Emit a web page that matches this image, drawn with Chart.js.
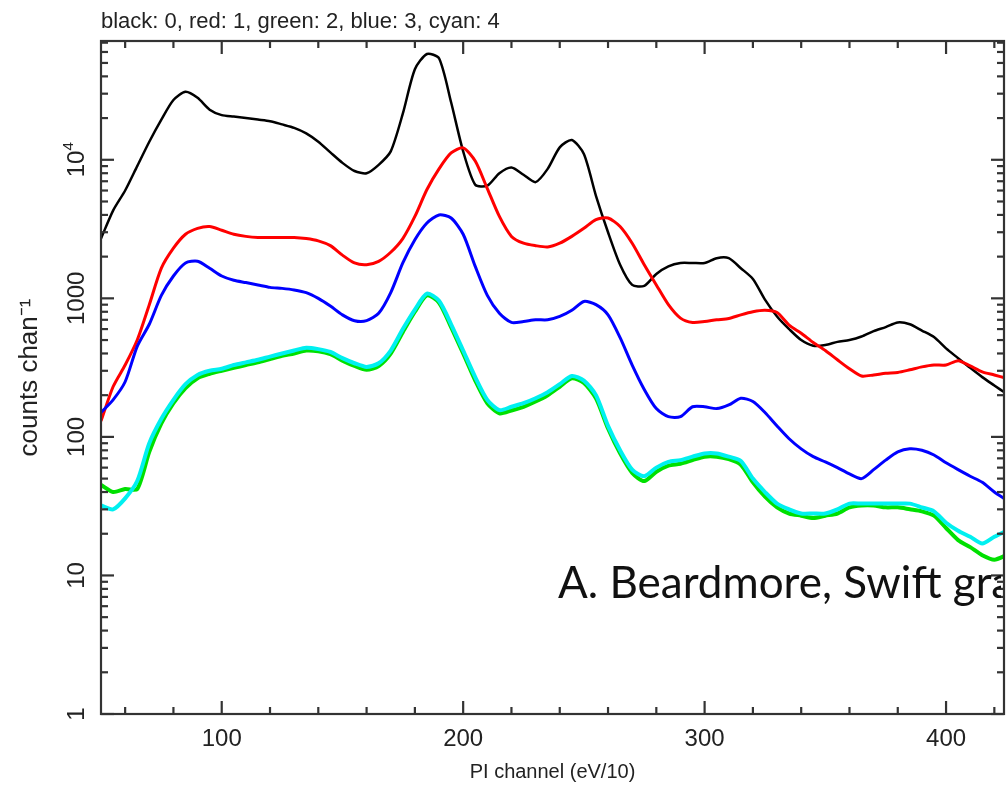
<!DOCTYPE html>
<html>
<head>
<meta charset="utf-8">
<script src="https://cdn.jsdelivr.net/npm/chart.js@4.4.0/dist/chart.umd.min.js"></script>
<style>
  html, body { margin: 0; padding: 0; background: #fff; }
  #wrap { width: 1007px; height: 786px; position: relative; }
</style>
</head>
<body>
<div id="wrap"><canvas id="spec"></canvas></div>
<script>
// PI channel (eV/10), read every 5 channels
const channels = [50, 55, 60, 65, 70, 75, 80, 85, 90, 95,
  100, 105, 110, 115, 120, 125, 130, 135, 140, 145,
  150, 155, 160, 165, 170, 175, 180, 185, 190, 195,
  200, 205, 210, 215, 220, 225, 230, 235, 240, 245,
  250, 255, 260, 265, 270, 275, 280, 285, 290, 295,
  300, 305, 310, 315, 320, 325, 330, 335, 340, 345,
  350, 355, 360, 365, 370, 375, 380, 385, 390, 395,
  400, 405, 410, 415, 420, 425];

// counts chan^-1
const black0 = [2700, 4300, 6000, 9000, 13500, 19500, 27000, 31000, 28000, 23000,
  21000, 20500, 20000, 19500, 19000, 18000, 17000, 15500, 13500, 11300,
  9500, 8300, 8000, 9200, 11500, 21500, 45000, 58000, 54000, 26000,
  11500, 6600, 6500, 8000, 8800, 7800, 6900, 8600, 12300, 13900,
  11000, 5500, 3000, 1750, 1250, 1230, 1500, 1700, 1800, 1800,
  1800, 1950, 1950, 1650, 1380, 980, 740, 600, 500, 455,
  460, 485, 500, 530, 580, 620, 670, 650, 585, 525,
  435, 370, 315, 270, 235, 205];

const red1 = [130, 230, 330, 500, 900, 1650, 2300, 2900, 3200, 3300,
  3100, 2900, 2800, 2750, 2750, 2750, 2750, 2700, 2600, 2400,
  2050, 1800, 1750, 1850, 2150, 2700, 3900, 6100, 8600, 11200,
  12200, 9800, 6200, 3900, 2800, 2500, 2400, 2350, 2500, 2800,
  3200, 3700, 3800, 3300, 2500, 1750, 1250, 900, 720, 670,
  680, 700, 715, 760, 800, 820, 790, 640, 560, 480,
  420, 360, 310, 275, 280, 288, 292, 305, 320, 330,
  330, 355, 325, 295, 280, 265];

const green2 = [45, 40, 42, 42, 78, 125, 175, 225, 265, 285,
  300, 315, 330, 345, 365, 385, 400, 420, 415, 395,
  355, 325, 305, 325, 400, 570, 800, 1050, 930, 620,
  400, 255, 175, 148, 155, 165, 180, 200, 230, 265,
  245, 190, 115, 76, 55, 48, 56, 62, 64, 68,
  72, 72, 69, 63, 47, 37, 31, 28, 27, 26,
  27, 28, 31, 32, 32, 31, 31, 30, 29, 27,
  22, 18, 16, 14, 13, 14];

const blue3 = [150, 185, 250, 450, 650, 1050, 1450, 1800, 1850, 1650,
  1450, 1350, 1300, 1250, 1200, 1180, 1150, 1100, 1000, 880,
  760, 690, 690, 780, 1100, 1800, 2650, 3500, 4000, 3800,
  2900, 1700, 1050, 780, 670, 680, 700, 700, 740, 820,
  950, 900, 760, 520, 330, 220, 160, 140, 140, 165,
  165, 160, 170, 190, 180, 150, 120, 97, 82, 72,
  66, 60, 54, 50, 58, 68, 78, 82, 80, 74,
  65, 58, 52, 47, 40, 35];

const cyan4 = [32, 30, 36, 48, 90, 135, 185, 240, 280, 300,
  310, 330, 345, 360, 380, 400, 420, 440, 430, 410,
  370, 340, 320, 340, 420, 600, 830, 1080, 960, 650,
  420, 270, 185, 156, 165, 175, 190, 210, 240, 275,
  255, 200, 120, 80, 58, 52, 60, 66, 68, 72,
  76, 76, 72, 67, 50, 40, 33, 30, 28, 28,
  28, 30, 33, 33, 33, 33, 33, 33, 31, 29,
  24, 21, 19, 17, 19, 21];

const xTicks = [100, 200, 300, 400];
const yTickValues = [1, 10, 100, 1000, 10000];
const yTickLabels = ['1', '10', '100', '1000', '10'];
const topTitle = 'black: 0, red: 1, green: 2, blue: 3, cyan: 4';
const credit = 'A. Beardmore, Swift graphic';

const FONT = "'Liberation Sans', Arial, sans-serif";

function pts(vals) {
  return channels.map((c, i) => ({ x: c, y: vals[i] }));
}

const frame = {
  id: 'frame',
  afterDraw(chart) {
    const { ctx, chartArea: a, scales: { x, y } } = chart;
    ctx.save();
    ctx.strokeStyle = '#333';
    ctx.lineWidth = 2.2;
    ctx.strokeRect(a.left, a.top, a.right - a.left, a.bottom - a.top);

    const line = (x1, y1, x2, y2) => {
      ctx.beginPath(); ctx.moveTo(x1, y1); ctx.lineTo(x2, y2); ctx.stroke();
    };
    // x ticks, every 20, major at 100s
    for (let v = 60; v <= x.max; v += 20) {
      const px = x.getPixelForValue(v);
      const len = v % 100 === 0 ? 13 : 7;
      line(px, a.bottom, px, a.bottom - len);
      line(px, a.top, px, a.top + len);
    }
    // y ticks, log decades
    for (let d = 0; d <= 4; d++) {
      for (let m = 1; m <= 9; m++) {
        const v = m * Math.pow(10, d);
        if (v > y.max) break;
        const py = y.getPixelForValue(v);
        const len = m === 1 ? 13 : 7;
        line(a.left, py, a.left + len, py);
        line(a.right, py, a.right - len, py);
      }
    }

    // y tick labels, rotated
    ctx.fillStyle = '#222';
    yTickValues.forEach((v, i) => {
      const py = y.getPixelForValue(v);
      ctx.save();
      ctx.translate(77, py);
      ctx.rotate(-Math.PI / 2);
      ctx.textBaseline = 'middle';
      ctx.textAlign = 'left';
      ctx.font = '24px ' + FONT;
      const w1 = ctx.measureText(yTickLabels[i]).width;
      let w2 = 0;
      if (v === 10000) {
        ctx.font = '15px ' + FONT;
        w2 = ctx.measureText('4').width;
      }
      ctx.font = '24px ' + FONT;
      ctx.fillText(yTickLabels[i], -(w1 + w2) / 2, 0);
      if (v === 10000) {
        ctx.font = '15px ' + FONT;
        ctx.fillText('4', -(w1 + w2) / 2 + w1, -8);
      }
      ctx.restore();
    });

    // header text
    ctx.font = '22px ' + FONT;
    ctx.textAlign = 'left';
    ctx.textBaseline = 'alphabetic';
    ctx.fillText(topTitle, a.left, 28);

    // credit, cut at the right axis
    ctx.save();
    ctx.beginPath();
    ctx.rect(0, 0, a.right - 3, chart.height);
    ctx.clip();
    ctx.fillStyle = '#111';
    ctx.font = "44px Lato, 'Open Sans', sans-serif";
    ctx.fillText(credit, 558, 598);
    ctx.restore();
    ctx.restore();
  }
};

const mk = (label, vals, color, width, order) => ({
  label, data: pts(vals), borderColor: color, backgroundColor: color,
  borderWidth: width, pointRadius: 0, tension: 0.25, order
});

new Chart(document.getElementById('spec'), {
  type: 'line',
  data: {
    datasets: [
      mk('0', black0, '#000000', 2.5, 5),
      mk('1', red1, '#ff0000', 3, 4),
      mk('2', green2, '#00e000', 4, 3),
      mk('3', blue3, '#0000ff', 3, 2),
      mk('4', cyan4, '#00f0f0', 4, 1)
    ]
  },
  options: {
    responsive: true,
    maintainAspectRatio: false,
    animation: false,
    layout: { padding: { top: 41, right: 3, left: 0, bottom: 0 } },
    plugins: { legend: { display: false }, tooltip: { enabled: false } },
    scales: {
      x: {
        type: 'linear',
        min: 50,
        max: 424,
        grid: { display: false, drawTicks: false },
        border: { display: false },
        afterBuildTicks: s => { s.ticks = xTicks.map(v => ({ value: v })); },
        afterFit: s => { s.height = 72; },
        ticks: { color: '#222', padding: 11, font: { family: FONT, size: 24 } },
        title: {
          display: true, text: 'PI channel (eV/10)', color: '#222',
          font: { family: FONT, size: 20 }, padding: { top: 0, bottom: 2 }
        }
      },
      y: {
        type: 'logarithmic',
        min: 1,
        max: 72000,
        grid: { display: false, drawTicks: false },
        border: { display: false },
        ticks: { display: false },
        afterFit: s => { s.width = 101; },
        title: {
          display: true, text: 'counts chan⁻¹', color: '#222',
          font: { family: FONT, size: 26 }, padding: { top: 14, bottom: 0 }
        }
      }
    }
  },
  plugins: [frame]
});
</script>
</body>
</html>
